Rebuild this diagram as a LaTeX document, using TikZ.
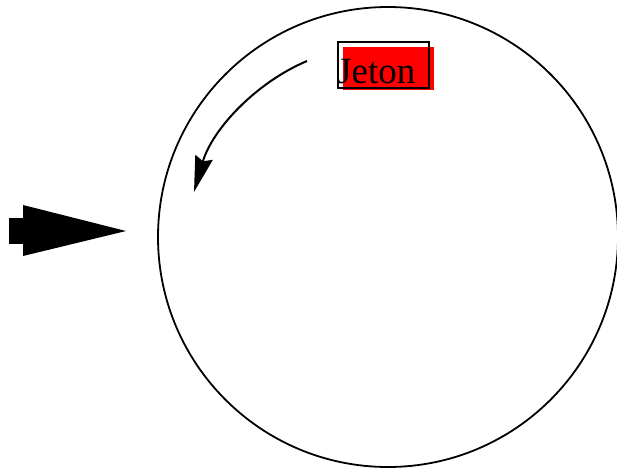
\documentclass[tikz,border=0pt]{standalone}
\usepackage{fontspec}
\setmainfont{Liberation Serif}
\usetikzlibrary{arrows.meta}
\begin{document}
\begin{tikzpicture}[x=1pt,y=-1pt,
  ring/.style={draw=black,line width=1.8pt},
  flow/.style={line width=2pt,-{Stealth[length=36pt,width=18pt,inset=4pt]}},
  label/.style={font=\fontsize{37}{42}\selectfont,inner sep=0pt,anchor=base west}]
\useasboundingbox (0,0) rectangle (617,469);
% circle
\node[ring,circle,minimum size=460pt,inner sep=0pt] (c) at (388,237) {};
% red background box
\fill[red] (343,47) rectangle (434,90);
% black frame
\draw[line width=1.6pt] (338,42) rectangle (429,88);
\node[label] (t) at (337,83) {Jeton};
% curved arrow
\coordinate (s) at (307,61);
\coordinate (e) at (194,192);
\draw[flow] (s) .. controls (255,83) and (212,130) .. (e);
% big arrow on the left
\coordinate (tip) at (126,231);
\fill[black] (9,218) rectangle (24,244);
\fill[black] (23,205) -- (tip) -- (23,256) -- cycle;
\end{tikzpicture}
\end{document}
